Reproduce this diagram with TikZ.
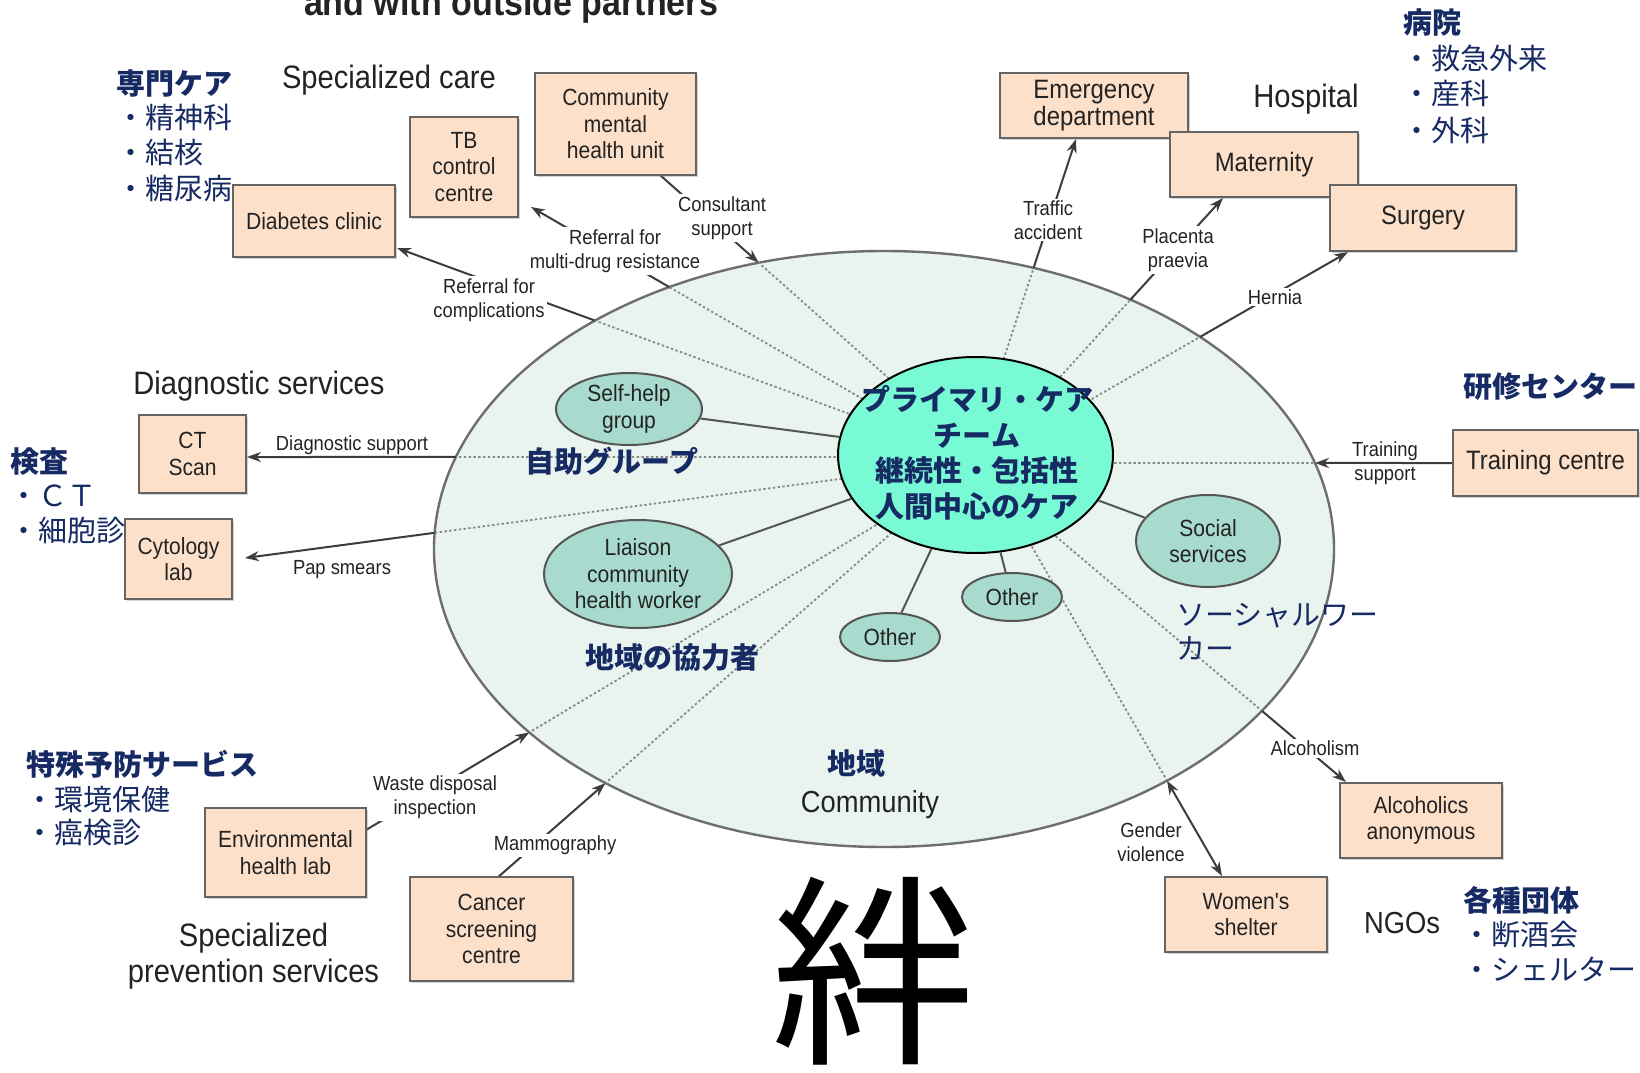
\documentclass[tikz,border=0pt]{standalone}
\usepackage{fontspec}
\setmainfont{Liberation Sans}
\newfontfamily\enf[FakeStretch=0.9]{Liberation Sans}
\newfontfamily\jpf{Noto Sans CJK JP}
\usetikzlibrary{shapes.geometric,arrows.meta,intersections,shadows}
\definecolor{peach}{RGB}{253,224,202}
\definecolor{boxline}{RGB}{100,100,100}
\definecolor{bigfill}{RGB}{233,244,239}
\definecolor{bigline}{RGB}{110,110,110}
\definecolor{blobfill}{RGB}{168,219,206}
\definecolor{blobline}{RGB}{85,85,85}
\definecolor{corefill}{RGB}{120,250,212}
\definecolor{navy}{RGB}{22,42,100}
\definecolor{txt}{RGB}{35,35,35}
\definecolor{dotc}{RGB}{135,135,135}
\definecolor{connc}{RGB}{60,60,60}
\tikzset{
  box/.style={draw=boxline, line width=1pt, fill=peach, align=center, text=txt, inner sep=0pt,
    font=\enf\fontsize{11.7}{13.3}\selectfont,
    drop shadow={shadow xshift=1pt, shadow yshift=-1pt, opacity=0.35}},
  bigbox/.style={box, font=\enf\fontsize{13.3}{12}\selectfont},
  blob/.style={ellipse, draw=blobline, line width=1pt, fill=blobfill, align=center, inner sep=0pt,
    text=txt, font=\enf\fontsize{11.7}{13.3}\selectfont},
  lab/.style={align=center, text=txt, inner sep=1pt, font=\enf\fontsize{10.2}{12}\selectfont},
  labw/.style={lab, fill=white},
  hdr/.style={text=txt, inner sep=0pt, anchor=base, font=\enf\fontsize{16.2}{18}\selectfont},
  hdrs/.style={hdr, font=\enf\fontsize{15.2}{17}\selectfont},
  jp/.style={text=navy, inner sep=0pt, anchor=base west, font=\jpf\fontsize{14.5}{17.5}\selectfont},
  jpb/.style={jp, font=\jpf\bfseries\fontsize{14.5}{17.5}\selectfont},
  dotline/.style={draw=dotc, line width=0.9pt, dash pattern=on 1.2pt off 1.2pt},
  conn/.style={draw=connc, line width=1pt},
  arr/.style={-{Stealth[length=7pt,width=5pt]}},
  spoke/.style={draw=blobline, line width=1pt},
}
\begin{document}
\begin{tikzpicture}[x=0.5pt,y=-0.5pt]
\useasboundingbox (0,0) rectangle (1640,1072);
\fill[white] (0,0) rectangle (1640,1072);

% community ellipse
\draw[name path=bigE, draw=bigline, fill=bigfill, line width=1.2pt] (884,549) ellipse [x radius=225pt, y radius=149pt];

% connector geometry
\foreach \k/\sx/\sy/\ex/\ey in {A/975/460/397/248, B/975/464/531/207, C/975/455/660/175,
  D/972/455/1076/139, E/989/455/1223/198, F/975/466/1348/252, G/975/463/1453/463,
  H/975/457/247/457, I/975/461/245/558, J/975/466/366/830, K/975/460/497/878,
  L/975/468/1346/782, M/979/455/1222/876}{
  \coordinate (s\k) at (\sx,\sy);
  \coordinate (e\k) at (\ex,\ey);
}
\foreach \k in {A,B,C,D,E,F,G,H,I,J,K,L,M}{
  \path[name path=p\k] (s\k) -- (e\k);
  \path[name intersections={of=bigE and p\k, by={b\k}}];
}
\foreach \k in {A,B,C,D,E,F,G,H,I,J,K,L,M}{
  \draw[dotline] (s\k) -- (b\k);
}
\foreach \k in {A,B,D,E,F,H,I,L}{
  \draw[conn,arr] (b\k) -- (e\k);
}
\foreach \k in {C,G,J,K}{
  \draw[conn,arr] (e\k) -- (b\k);
}
\draw[conn,{Stealth[length=7pt,width=5pt]}-{Stealth[length=7pt,width=5pt]}] (bM) -- (eM);

% boxes
\node[box, minimum width=80.5pt, minimum height=51pt] (cmhu) at (615.5,124) {Community\\mental\\health unit};
\node[box, minimum width=54pt, minimum height=50pt] (tb) at (464,167) {TB\\control\\centre};
\node[box, minimum width=81pt, minimum height=36pt] (diab) at (314,221) {Diabetes clinic};
\node[bigbox, minimum width=94pt, minimum height=32.5pt] (emerg) at (1094,105.5) {Emergency\\department};
\node[bigbox, minimum width=94pt, minimum height=32.5pt] (mat) at (1264,164.5) {Maternity};
\node[bigbox, minimum width=93pt, minimum height=33pt] (surg) at (1423,218) {Surgery};
\node[box, minimum width=53.5pt, minimum height=39pt] (ct) at (192.5,454) {CT\\Scan};
\node[box, minimum width=53.5pt, minimum height=40pt] (cyto) at (178.5,559) {Cytology\\lab};
\node[bigbox, minimum width=92.5pt, minimum height=33pt] (train) at (1545.5,463) {Training centre};
\node[box, minimum width=80.5pt, minimum height=44.5pt] (env) at (285.5,852.5) {Environmental\\health lab};
\node[box, minimum width=81.5pt, minimum height=52pt] (cancer) at (491.5,929) {Cancer\\screening\\centre};
\node[box, minimum width=81pt, minimum height=37.5pt] (aa) at (1421,820.5) {Alcoholics\\anonymous};
\node[box, minimum width=81pt, minimum height=37.5pt] (women) at (1246,914.5) {Women's\\shelter};

% community members
\node[blob, minimum width=73pt, minimum height=36pt] (self) at (629,409) {Self-help\\group};
\node[blob, minimum width=94pt, minimum height=54pt] (liaison) at (638,574) {Liaison\\community\\health worker};
\node[blob, minimum width=72pt, minimum height=46pt] (social) at (1208,541) {Social\\services};
\node[blob, minimum width=50pt, minimum height=24pt] (oth1) at (1012,597) {Other};
\node[blob, minimum width=50pt, minimum height=24pt] (oth2) at (890,637) {Other};

\node[ellipse, draw=black, line width=1pt, fill=corefill, minimum width=137.5pt, minimum height=98pt, inner sep=0pt] (core) at (975.5,455) {};
\foreach \n in {self,liaison,social,oth1,oth2}{
  \draw[spoke] (\n) -- (core);
}
\node[text=navy, align=center, inner sep=0pt, font=\jpf\bfseries\fontsize{14.5}{17.75}\selectfont] (coretext) at (977,453)
  {プライマリ・ケア\\チーム\\継続性・包括性\\人間中心のケア};

% connector labels
\node[labw] (lA) at (489,300) {Referral for\\complications};
\node[labw] (lB) at (615,251) {Referral for\\multi-drug resistance};
\node[labw] (lC) at (722,218) {Consultant\\support};
\node[labw] (lD) at (1048,220) {Traffic\\accident};
\node[labw] (lE) at (1178,250) {Placenta\\praevia};
\node[labw] (lF) at (1275,297) {Hernia};
\node[lab] (lG) at (1385,463) {Training\\support};
\node[lab] (lH) at (352,445) {Diagnostic support};
\node[lab] (lI) at (342,570) {Pap smears};
\node[labw] (lJ) at (435,797) {Waste disposal\\inspection};
\node[labw] (lK) at (555,845) {Mammography};
\node[labw] (lL) at (1315,748) {Alcoholism};
\node[lab] (lM) at (1151,842) {Gender\\violence};

% group headers
\node[hdr, font=\enf\bfseries\fontsize{18.9}{20}\selectfont] (title) at (511,15) {and with outside partners};
\node[hdr] (hspec) at (389,88) {Specialized care};
\node[hdr] (hhosp) at (1306,107) {Hospital};
\node[hdr] (hdiag) at (259,394) {Diagnostic services};
\node[hdr] (hprev1) at (253.5,946) {Specialized};
\node[hdr] (hprev2) at (253.5,982) {prevention services};
\node[hdrs] (hngo) at (1402,933) {NGOs};
\node[hdrs] (hcomm) at (870,812) {Community};

% Japanese annotations
\node[jpb] (jsenmon) at (116,94) {専門ケア};
\node[jp] (js1) at (116,128) {・精神科};
\node[jp] (js2) at (116,163) {・結核};
\node[jp] (js3) at (116,199) {・糖尿病};
\node[jpb] (jbyoin) at (1403,33) {病院};
\node[jp] (jh1) at (1402,69) {・救急外来};
\node[jp] (jh2) at (1402,104) {・産科};
\node[jp] (jh3) at (1402,141) {・外科};
\node[jpb] (jkensa) at (10,472) {検査};
\node[jp] (jk1) at (9,506) {・ＣＴ};
\node[jp] (jk2) at (9,541) {・細胞診};
\node[jpb] (jtoku) at (26,775) {特殊予防サービス};
\node[jp] (jt1) at (25,810) {・環境保健};
\node[jp] (jt2) at (25,843) {・癌検診};
\node[jpb] (jkaku) at (1463,911) {各種団体};
\node[jp] (jn1) at (1462,945) {・断酒会};
\node[jp] (jn2) at (1462,980) {・シェルター};
\node[jpb] (jkenshu) at (1463,397) {研修センター};
\node[jp] (jsw1) at (1176,625) {ソーシャルワー};
\node[jp] (jsw2) at (1176,659) {カー};
\node[jpb, anchor=base] (jjijo) at (612,472) {自助グループ};
\node[jpb, anchor=base] (jkyo) at (672,668) {地域の協力者};
\node[jpb, anchor=base] (jchiiki) at (856,774) {地域};

\node[text=black, inner sep=0pt, anchor=base, font=\jpf\fontsize{102}{110}\selectfont] (kizuna) at (873,1048) {絆};
\end{tikzpicture}
\end{document}
